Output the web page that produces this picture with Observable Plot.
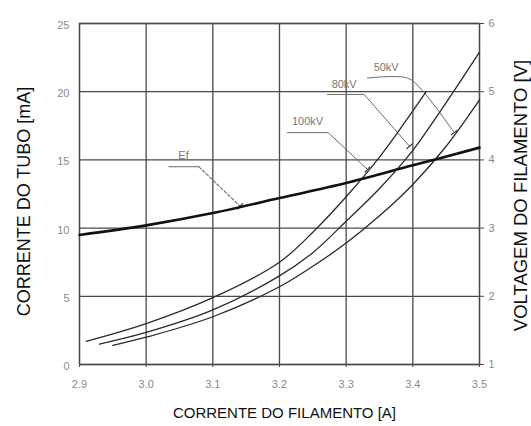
<!DOCTYPE html>
<html><head><meta charset="utf-8">
<script src="https://cdn.jsdelivr.net/npm/d3@7"></script>
<script src="https://cdn.jsdelivr.net/npm/@observablehq/plot@0.6"></script>
<style>html,body{margin:0;padding:0;background:#fff} svg{display:block}</style>
</head><body><div id="chart"></div>
<script>
// Axis ticks
const xTicks = [2.9, 3.0, 3.1, 3.2, 3.3, 3.4, 3.5];      // filament current [A]
const yTicks = [0, 5, 10, 15, 20, 25];                  // tube current [mA]
const vTicks = [1, 2, 3, 4, 5, 6];                      // filament voltage [V]

// Tube current curves (x = filament current A, y = tube current mA)
const i100 = [2.91, 3.0, 3.1, 3.2, 3.25, 3.3, 3.35, 3.42];
const mA100 = [1.7, 3.0, 4.9, 7.5, 9.7, 12.3, 15.2, 20.0];
const i80 = [2.93, 3.0, 3.1, 3.2, 3.25, 3.3, 3.35, 3.4, 3.45, 3.5];
const mA80 = [1.5, 2.35, 4.0, 6.5, 8.2, 10.5, 12.9, 15.7, 19.2, 22.9];
const i50 = [2.95, 3.0, 3.1, 3.2, 3.25, 3.3, 3.35, 3.4, 3.45, 3.5];
const mA50 = [1.4, 2.0, 3.5, 5.7, 7.2, 8.9, 10.9, 13.2, 16.0, 19.4];

// Filament voltage Ef (right axis, V)
const efI = [2.9, 3.0, 3.1, 3.2, 3.3, 3.4, 3.5];
const efV = [2.9, 3.04, 3.22, 3.44, 3.66, 3.92, 4.18];

// Annotation labels and leader lines (data units)
const labelText = ["Ef", "100kV", "80kV", "50kV"];
const labelX = [3.056, 3.242, 3.297, 3.36];
const labelY = [15.35, 17.8, 20.5, 21.8];
const leadEfX = [3.034, 3.079], leadEfY = [14.5, 14.5];
const dashEfX = [3.079, 3.141], dashEfY = [14.5, 11.6];
const lead100X = [3.212, 3.273, 3.332], lead100Y = [17.0, 17.0, 14.3];
const lead80X = [3.272, 3.327, 3.395], lead80Y = [19.8, 19.8, 16.0];
const lead50X = [3.332, 3.392, 3.414, 3.462], lead50Y = [21.0, 21.0, 20.1, 17.0];

const titleLeft = "CORRENTE DO TUBO [mA]";
const titleRight = "VOLTAGEM DO FILAMENTO [V]";
const titleBottom = "CORRENTE DO FILAMENTO [A]";

// --- layout
const W = 531, H = 426, mL = 79, mR = 52, mT = 23, mB = 62;
const pxA = (W - mL - mR) / (xTicks[xTicks.length-1] - xTicks[0]);
const pxMA = (H - mT - mB) / (yTicks[yTicks.length-1] - yTicks[0]);

const toMA = v => (v - 1) * 5;
const pts = (xs, ys) => xs.map((x, i) => ({x, y: ys[i]}));

// end ticks of leaders, perpendicular to last segment
const leaders = [[dashEfX, dashEfY], [lead100X, lead100Y], [lead80X, lead80Y], [lead50X, lead50Y]];
const endTicks = leaders.map(([xs, ys]) => {
  const n = xs.length;
  const dx = (xs[n-1] - xs[n-2]) * pxA, dy = -(ys[n-1] - ys[n-2]) * pxMA;
  const ang = Math.atan2(dx, -dy) * 180 / Math.PI + 90;
  return {x: xs[n-1], y: ys[n-1], a: ang};
});
const bar = {draw(ctx, l) { ctx.moveTo(0, 0); ctx.lineTo(0, -l); }};

const gridC = "#4a4a4a", tickC = "#8a8a8a", leadC = "#6a6a6a";
const font = "Liberation Sans, Arial, Helvetica, sans-serif";

const plot = Plot.plot({
  width: W, height: H,
  marginLeft: mL, marginRight: mR, marginTop: mT, marginBottom: mB,
  style: {fontFamily: font, background: "#fff"},
  x: {domain: [xTicks[0], xTicks[xTicks.length-1]]},
  y: {domain: [yTicks[0], yTicks[yTicks.length-1]]},
  marks: [
    Plot.gridX(xTicks, {stroke: gridC, strokeOpacity: 1, strokeWidth: 1.3}),
    Plot.gridY(yTicks, {stroke: gridC, strokeOpacity: 1, strokeWidth: 1.3}),
    Plot.frame({stroke: gridC, strokeWidth: 1.3}),
    Plot.axisY(yTicks, {anchor: "left", tickSize: 0, tickPadding: 10, fill: tickC, fontSize: 11, label: null, dy: 2}),
    Plot.axisY(vTicks.map(toMA), {anchor: "right", tickSize: 4, tickPadding: 5, stroke: gridC, fill: tickC, fontSize: 11, label: null, tickFormat: d => String(Math.round(d / 5 + 1))}),
    Plot.axisX(xTicks, {anchor: "bottom", tickSize: 3, tickPadding: 13, stroke: gridC, fill: tickC, fontSize: 11, label: null, tickFormat: d => d.toFixed(1)}),
    // leaders
    Plot.line(pts(leadEfX, leadEfY), {x: "x", y: "y", stroke: leadC, strokeWidth: 1}),
    Plot.line(pts(dashEfX, dashEfY), {x: "x", y: "y", stroke: leadC, strokeWidth: 1.1, strokeDasharray: "3,2"}),
    Plot.line(pts(lead100X, lead100Y), {x: "x", y: "y", stroke: leadC, strokeWidth: 1}),
    Plot.line(pts(lead80X, lead80Y), {x: "x", y: "y", stroke: leadC, strokeWidth: 1}),
    Plot.line(pts(lead50X, lead50Y), {x: "x", y: "y", stroke: leadC, strokeWidth: 1, curve: "catmull-rom"}),
    Plot.vector(endTicks, {x: "x", y: "y", rotate: "a", length: 7, anchor: "middle", shape: bar, stroke: "#444", strokeWidth: 1.3}),
    Plot.text(labelText.map((t, i) => ({t, x: labelX[i], y: labelY[i]})), {x: "x", y: "y", text: "t", fill: "#777", fontSize: 11}),
    // curves
    Plot.line(pts(i100, mA100), {x: "x", y: "y", curve: "catmull-rom", stroke: "#2a2a2a", strokeWidth: 1.3}),
    Plot.line(pts(i80, mA80), {x: "x", y: "y", curve: "catmull-rom", stroke: "#2a2a2a", strokeWidth: 1.3}),
    Plot.line(pts(i50, mA50), {x: "x", y: "y", curve: "catmull-rom", stroke: "#2a2a2a", strokeWidth: 1.3}),
    Plot.line(pts(efI, efV.map(toMA)), {x: "x", y: "y", curve: "catmull-rom", stroke: "#111", strokeWidth: 2.6}),
    // titles
    Plot.text([titleLeft], {frameAnchor: "left", textAnchor: "middle", lineAnchor: "middle", dx: -55.5, dy: 7.5, rotate: -90, fontSize: 18, fill: "#111"}),
    Plot.text([titleRight], {frameAnchor: "right", textAnchor: "middle", lineAnchor: "middle", dx: 42, dy: 1.5, rotate: -90, fontSize: 18.5, fill: "#111"}),
    Plot.text([titleBottom], {frameAnchor: "bottom", textAnchor: "middle", lineAnchor: "middle", dx: 5, dy: 49, fontSize: 15, fill: "#111"})
  ]
});
document.getElementById("chart").appendChild(plot);
</script>
</body></html>
